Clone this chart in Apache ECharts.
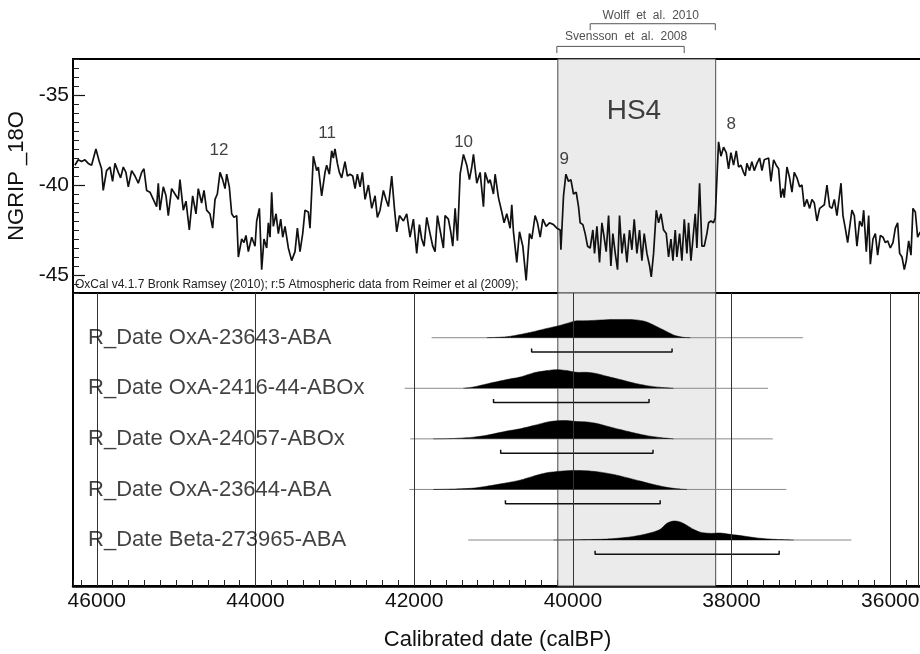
<!DOCTYPE html>
<html>
<head>
<meta charset="utf-8">
<script src="https://cdn.jsdelivr.net/npm/echarts@6/dist/echarts.min.js"></script>
<style>
    html, body { margin: 0; padding: 0; background: #fff; }
    #chart { width: 920px; height: 654px; }
</style>
</head>
<body>
<div id="chart"></div>
<script>
// NGRIP record (calBP age, per mil)
const ngripAge = [
    46276, 46234, 46192, 46150, 46108, 46066, 46011, 45969, 45940, 45919, 45877, 45834, 45801, 45771, 45729, 45700,
    45666, 45633, 45603, 45561, 45519, 45477, 45435, 45406, 45372, 45330, 45288, 45246, 45225, 45204, 45162, 45128,
    45099, 45057, 45015, 44973, 44952, 44910, 44876, 44834, 44792, 44750, 44721, 44679, 44649, 44616, 44574, 44540,
    44510, 44481, 44447, 44414, 44384, 44363, 44330, 44300, 44271, 44237, 44216, 44174, 44145, 44120, 44090, 44048,
    44006, 43985, 43951, 43922, 43893, 43859, 43838, 43817, 43796, 43775, 43741, 43712, 43682, 43657, 43628, 43586,
    43544, 43502, 43472, 43439, 43405, 43376, 43334,
    43313, 43271, 43229, 43208, 43166, 43124, 43103, 43069, 43040, 43019, 42998, 42968, 42943, 42914, 42872, 42842,
    42809, 42775, 42745, 42716, 42682, 42653, 42619, 42577, 42535, 42493, 42464, 42430, 42388, 42355, 42325, 42283,
    42249, 42220, 42186, 42136, 42094, 42052, 42010, 41968, 41934, 41905, 41875, 41842, 41800, 41766, 41737, 41707,
    41674, 41632, 41611, 41569, 41539, 41514, 41484, 41455, 41421, 41379, 41337, 41304, 41274, 41253, 41211, 41169,
    41127, 41106, 41064, 41043, 41001, 40980, 40938, 40896, 40867, 40833, 40791, 40770, 40749, 40707, 40673, 40631,
    40589, 40547, 40518, 40476, 40446, 40412, 40379, 40337, 40295, 40244, 40202, 40160,
    40151, 40118, 40088, 40055, 40025, 39992, 39958, 39929, 39908, 39874, 39845, 39815, 39782, 39748, 39727, 39697,
    39664, 39634, 39613, 39580, 39550, 39521, 39496, 39466, 39437, 39412, 39382, 39353, 39319, 39286, 39256, 39227,
    39193, 39160, 39130, 39101, 39067, 39033, 39012, 38983, 38949, 38920, 38890, 38857, 38823, 38794, 38764, 38739,
    38710, 38689, 38655, 38626, 38596, 38563, 38542, 38512, 38487, 38458, 38437, 38403, 38374, 38344, 38311, 38290,
    38260, 38227, 38206,
    38164, 38134, 38101, 38067, 38038, 38008, 37975, 37941, 37912, 37882, 37849, 37828, 37807, 37773, 37744, 37714,
    37680, 37647, 37617, 37588, 37563, 37533, 37504, 37470, 37437, 37407, 37378, 37353, 37336, 37302, 37269, 37239,
    37210, 37176, 37142, 37113, 37084, 37050, 37016, 36987, 36957, 36924, 36890, 36861, 36831, 36798, 36764, 36735,
    36705, 36672, 36638, 36621, 36596, 36567, 36537, 36512, 36483, 36453, 36420, 36386, 36356, 36335, 36302, 36272,
    36251, 36218, 36188, 36159, 36125, 36092, 36062, 36033, 35999, 35966, 35936, 35907, 35882, 35852, 35823, 35798,
    35768, 35739, 35714, 35684, 35655, 35621
];
const ngripD18O = [
    -38.9, -38.6, -38.7, -38.6, -38.8, -38.9, -38.0, -38.7, -39.1, -40.3, -39.2, -39.0, -39.8, -38.8, -39.3, -39.6,
    -39.0, -39.3, -40.1, -39.2, -39.5, -39.9, -39.3, -39.1, -40.3, -40.4, -40.8, -41.2, -39.9, -41.4, -40.1, -40.6,
    -41.7, -40.2, -40.5, -40.8, -39.7, -41.4, -40.9, -42.5, -40.6, -41.6, -40.2, -41.0, -40.3, -41.4, -41.6, -42.4,
    -40.8, -40.5, -39.3, -39.7, -40.2, -39.4, -40.1, -41.6, -41.8, -41.7, -44.0, -43.0, -43.2, -42.8, -43.7, -42.9,
    -43.4, -42.0, -41.3, -44.7, -43.0, -43.5, -42.1, -42.9, -40.4, -42.3, -41.6, -42.7, -41.9, -42.9, -42.3, -43.5,
    -44.2, -43.7, -42.4, -43.7, -42.7, -41.4, -41.5,
    -42.4, -38.4, -39.2, -39.0, -40.6, -39.3, -38.9, -39.4, -38.1, -38.5, -38.0, -38.8, -39.3, -39.6, -38.7, -39.5,
    -39.4, -39.5, -40.2, -39.4, -40.1, -39.3, -40.8, -40.0, -41.3, -40.6, -41.8, -41.4, -40.3, -40.8, -41.2, -39.5,
    -41.3, -42.6, -41.7, -42.0, -41.6, -42.9, -41.9, -43.8, -42.2, -43.0, -43.4, -41.8, -42.7, -43.4, -43.7, -41.7,
    -42.5, -43.5, -41.7, -41.9, -42.6, -43.4, -41.3, -43.1, -39.4, -38.3, -38.9, -39.7, -39.0, -38.3, -39.9, -39.3,
    -41.2, -39.3, -39.9, -39.7, -40.5, -39.4, -40.7, -41.5, -42.1, -41.6, -42.4, -41.1, -42.6, -44.3, -42.6, -43.4,
    -45.3, -42.7, -43.0, -41.7, -42.1, -42.9, -41.9, -42.3, -42.1, -42.2, -42.4, -42.5,
    -43.6, -40.6, -39.4, -39.8, -39.7, -40.5, -40.4, -41.2, -42.1, -42.2, -42.7, -43.4, -43.5, -42.5, -43.8, -42.3,
    -44.3, -42.1, -42.7, -43.7, -41.7, -44.5, -42.7, -43.8, -44.7, -41.7, -43.8, -42.7, -44.3, -42.5, -43.6, -41.9,
    -43.8, -42.5, -44.2, -42.7, -43.8, -44.5, -45.1, -43.8, -41.4, -42.1, -41.6, -42.5, -42.7, -44.0, -43.0, -44.2,
    -42.5, -44.0, -42.7, -44.2, -41.9, -43.8, -42.1, -44.2, -43.0, -41.6, -43.5, -39.9, -43.4, -43.4, -42.7, -42.1,
    -42.0, -42.1, -41.8,
    -37.6, -38.4, -37.9, -38.2, -39.1, -38.2, -38.9, -38.1, -39.0, -38.9, -39.3, -39.5, -38.8, -39.2, -38.7, -39.2,
    -38.8, -38.5, -39.2, -38.6, -38.6, -38.5, -39.8, -38.6, -38.9, -39.1, -40.7, -40.2, -40.7, -39.0, -39.6, -40.4,
    -39.3, -39.6, -40.1, -40.0, -41.2, -40.8, -41.3, -40.8, -41.0, -42.0, -41.3, -41.2, -41.1, -40.0, -41.2, -41.3,
    -40.8, -41.7, -40.5, -39.9, -41.7, -42.4, -43.2, -43.3, -41.4, -41.7, -43.4, -42.0, -42.3, -41.4, -43.7, -41.7,
    -44.4, -43.0, -42.7, -43.9, -42.8, -42.9, -43.2, -43.1, -43.5, -43.2, -42.4, -42.1, -43.8, -44.0, -44.7, -44.2,
    -43.1, -43.9, -41.3, -41.5, -42.9, -42.6
];

// interstadial numbers
const peakNames = ["12", "11", "10", "9", "8"];
const peakAge = [44460, 43098, 41377, 40110, 38004];
const peakValue = [-38.1, -37.15, -37.63, -38.6, -36.65];

const hs4Range = [40190, 38200];
const hs4LabelPos = [39231, -35.9];

const wolffRange = [39782, 38205];
const svenssonRange = [40202, 38597];

// OxCal dates, top to bottom
const dateNames = [
    "R_Date OxA-23643-ABA",
    "R_Date OxA-2416-44-ABOx",
    "R_Date OxA-24057-ABOx",
    "R_Date OxA-23644-ABA",
    "R_Date Beta-273965-ABA",
];
const dateSpan = [[41780, 37100], [42120, 37540], [42050, 37480], [42060, 37310], [41320, 36490]];
const dateRange95 = [[40520, 38750], [41000, 39040], [40910, 38990], [40850, 38900], [39720, 37400]];
const probAge = [
    [41085, 40833, 40665, 40497, 40328, 40189, 40076, 39971, 39866, 39740, 39571, 39404, 39236, 39110, 39025, 38921, 38815, 38710, 38605, 38521],
    [41380, 41253, 41085, 40833, 40665, 40497, 40328, 40202, 40076, 39950, 39824, 39698, 39571, 39404, 39236, 39068, 38900, 38731],
    [41758, 41506, 41253, 41085, 40833, 40665, 40497, 40328, 40202, 40076, 39950, 39824, 39698, 39571, 39404, 39236, 39068, 38900, 38731],
    [41758, 41506, 41253, 41085, 40833, 40665, 40497, 40328, 40160, 39992, 39824, 39656, 39488, 39319, 39151, 38984, 38815, 38647, 38562],
    [40245, 39908, 39571, 39319, 39151, 38984, 38899, 38815, 38731, 38647, 38562, 38479, 38395, 38269, 38143, 38016, 37849, 37680, 37470, 37218],
];
const probValue = [
    [0, .05, .17, .32, .49, .62, .75, .88, .89, .91, .95, .96, .95, .88, .75, .54, .32, .11, .02, 0],
    [0, .07, .23, .46, .59, .81, .93, .98, .93, .84, .84, .77, .63, .46, .28, .14, .05, 0],
    [0, .02, .09, .19, .41, .53, .7, .88, .95, .96, .91, .89, .81, .67, .49, .32, .17, .07, 0],
    [0, .02, .07, .17, .35, .49, .7, .88, .96, 1.0, .98, .91, .79, .62, .44, .26, .11, .02, 0],
    [0, .02, .05, .14, .25, .42, .56, .88, 1.0, .95, .77, .56, .41, .35, .37, .3, .21, .11, .04, 0],
];

const gridAges = [46000, 44000, 42000, 40000, 38000, 36000];
const frameRightAge = 35650;
const yTicks = [-45, -40, -35];

const FONT = "Liberation Sans, Arial, sans-serif";
const probScale = 0.376;
const barDrop = 0.283;
const barTick = 0.07;
const rowLabelAge = 46110;

const chart = echarts.init(document.getElementById("chart"));

const series = [];

// HS4 shading, both panels
[0, 1].forEach((g) => {
    series.push({
        type: "line",
        xAxisIndex: g,
        yAxisIndex: g === 0 ? 0 : 2,
        data: [[hs4Range[0], g === 0 ? -40 : 3], [hs4Range[1], g === 0 ? -40 : 3]],
        symbol: "none",
        lineStyle: { opacity: 0 },
        silent: true,
        z: 1,
        markArea: {
            silent: true,
            itemStyle: { color: "#ebebeb", borderColor: "#4a4a4a", borderWidth: 1 },
            data: [[{ xAxis: hs4Range[0] }, { xAxis: hs4Range[1] }]],
        },
        markLine: g === 1 ? {
            silent: true,
            symbol: ["none", "none"],
            label: { show: false },
            lineStyle: { color: "#333", width: 1, type: "solid" },
            data: gridAges.concat([frameRightAge]).map((a) => ({ xAxis: a })),
        } : undefined,
    });
});

// NGRIP curve
series.push({
    type: "line",
    xAxisIndex: 0,
    yAxisIndex: 0,
    data: ngripAge.map((a, i) => [a, ngripD18O[i]]),
    symbol: "none",
    lineStyle: { color: "#111", width: 1.7 },
    z: 5,
});

// peak labels + HS4
series.push({
    type: "scatter",
    xAxisIndex: 0,
    yAxisIndex: 0,
    symbolSize: 0,
    data: peakNames.map((n, i) => [peakAge[i], peakValue[i], n]),
    label: { show: true, position: "inside", formatter: (p) => p.data[2], fontSize: 17, color: "#111", fontFamily: FONT },
    z: 6,
});
series.push({
    type: "scatter",
    xAxisIndex: 0,
    yAxisIndex: 0,
    symbolSize: 0,
    data: [[hs4LabelPos[0], hs4LabelPos[1], "HS4"]],
    label: { show: true, position: "inside", formatter: (p) => p.data[2], fontSize: 28, color: "#111", fontFamily: FONT },
    z: 6,
});

// reference brackets above the panel
function bracket(range, top, bottom) {
    return {
        type: "line",
        xAxisIndex: 0,
        yAxisIndex: 0,
        clip: false,
        symbol: "none",
        data: [[range[0], bottom], [range[0], top], [range[1], top], [range[1], bottom]],
        lineStyle: { color: "#555", width: 1 },
    };
}
series.push(bracket(wolffRange, -31.04, -31.4));
series.push(bracket(svenssonRange, -32.3, -32.67));
series.push({
    type: "scatter",
    xAxisIndex: 0,
    yAxisIndex: 0,
    clip: false,
    symbolSize: 0,
    data: [[39019, -30.62, "Wolff  et  al.  2010"], [39329, -31.76, "Svensson  et  al.  2008"]],
    label: { show: true, position: "inside", formatter: (p) => p.data[2], fontSize: 12, color: "#222", fontFamily: FONT },
});

// OxCal rows
dateNames.forEach((name, i) => {
    const row = 5 - i;
    series.push({
        type: "line",
        xAxisIndex: 1,
        yAxisIndex: 2,
        symbol: "none",
        data: [[dateSpan[i][0], row], [dateSpan[i][1], row]],
        lineStyle: { color: "#8a8a8a", width: 1 },
        z: 3,
    });
    const y = row - barDrop;
    series.push({
        type: "line",
        xAxisIndex: 1,
        yAxisIndex: 2,
        symbol: "none",
        data: [
            [dateRange95[i][0], y + barTick],
            [dateRange95[i][0], y],
            [dateRange95[i][1], y],
            [dateRange95[i][1], y + barTick],
        ],
        lineStyle: { color: "#111", width: 1.5 },
        z: 4,
    });
});

// probability distributions, filled down to each row's baseline
series.push({
    type: "custom",
    xAxisIndex: 1,
    yAxisIndex: 2,
    z: 4,
    data: dateNames.map((n, i) => [i]),
    renderItem: (params, api) => {
        const i = api.value(0);
        const row = 5 - i;
        const pts = probAge[i].map((a, j) => api.coord([a, row + probValue[i][j] * probScale]));
        return {
            type: "polyline",
            shape: { points: pts, smooth: 0.25 },
            style: { fill: "#000", stroke: "#000", lineWidth: 0.5 },
        };
    },
});

series.push({
    type: "scatter",
    xAxisIndex: 1,
    yAxisIndex: 2,
    symbolSize: 0,
    data: dateNames.map((n, i) => [rowLabelAge, 5 - i, n]),
    label: { show: true, position: "right", distance: 0, formatter: (p) => p.data[2], fontSize: 22, color: "#111", fontFamily: FONT },
    z: 6,
});

const option = {
    animation: false,
    backgroundColor: "#fff",
    textStyle: { fontFamily: FONT },
    grid: [
        { left: 73, right: -2, top: 59, height: 234, show: true, borderColor: "#000", borderWidth: 2, outerBoundsMode: "none" },
        { left: 73, right: -2, top: 293, height: 293, show: true, borderColor: "#000", borderWidth: 2, outerBoundsMode: "none" },
    ],
    xAxis: [
        { type: "value", gridIndex: 0, min: 35600, max: 46300, inverse: true, show: false },
        {
            type: "value",
            gridIndex: 1,
            min: 35600,
            max: 46300,
            interval: 200,
            inverse: true,
            axisLine: { show: true, lineStyle: { color: "#000", width: 2.5 } },
            axisTick: { show: true, inside: true, length: 6, lineStyle: { color: "#222", width: 1 } },
            axisLabel: {
                formatter: (v) => (v % 2000 === 0 ? String(v) : ""),
                fontSize: 21,
                color: "#111",
                margin: 5,
            },
            splitLine: { show: false },
            name: "Calibrated date (calBP)",
            nameLocation: "middle",
            nameGap: 43,
            nameTextStyle: { fontSize: 22, color: "#111" },
        },
    ],
    yAxis: [
        {
            type: "value",
            gridIndex: 0,
            position: "left",
            min: -46,
            max: -33,
            axisLine: { show: true, lineStyle: { color: "#000", width: 2 } },
            axisTick: { show: true, inside: true, length: 12, customValues: yTicks, lineStyle: { color: "#111", width: 1.2 } },
            axisLabel: { customValues: yTicks, fontSize: 21, color: "#111", margin: 4 },
            splitLine: { show: false },
            name: "NGRIP _18O",
            nameLocation: "middle",
            nameGap: 40,
            nameRotate: 90,
            nameTextStyle: { fontSize: 22, color: "#111" },
        },
        {
            type: "value",
            gridIndex: 0,
            position: "left",
            offset: 0,
            min: -46,
            max: -33,
            interval: 0.5,
            axisLine: { show: false },
            axisTick: { show: true, inside: true, length: 6, lineStyle: { color: "#222", width: 1 } },
            axisLabel: { show: false },
            splitLine: { show: false },
        },
        { type: "value", gridIndex: 1, min: 0.091, max: 5.884, show: false },
    ],
    graphic: [
        {
            type: "text",
            left: 75,
            top: 279,
            style: {
                text: "OxCal v4.1.7 Bronk Ramsey (2010); r:5 Atmospheric data from Reimer et al (2009);",
                font: "12px " + FONT,
                fill: "#222",
            },
            z: 10,
        },
    ],
    series: series,
};

chart.setOption(option);
</script>
</body>
</html>
